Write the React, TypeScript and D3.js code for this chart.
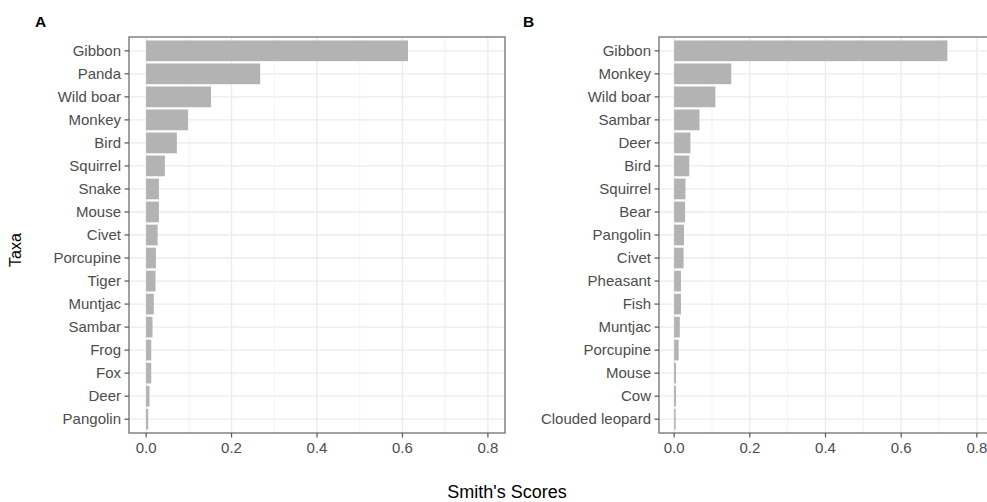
import React from "react";
import * as d3 from "d3";

const taxaA = ["Gibbon", "Panda", "Wild boar", "Monkey", "Bird", "Squirrel", "Snake", "Mouse", "Civet", "Porcupine", "Tiger", "Muntjac", "Sambar", "Frog", "Fox", "Deer", "Pangolin"];
const scoresA = [0.613, 0.267, 0.152, 0.098, 0.072, 0.044, 0.030, 0.030, 0.027, 0.023, 0.022, 0.018, 0.015, 0.012, 0.012, 0.008, 0.005];

const taxaB = ["Gibbon", "Monkey", "Wild boar", "Sambar", "Deer", "Bird", "Squirrel", "Bear", "Pangolin", "Civet", "Pheasant", "Fish", "Muntjac", "Porcupine", "Mouse", "Cow", "Clouded leopard"];
const scoresB = [0.722, 0.151, 0.109, 0.067, 0.043, 0.040, 0.030, 0.029, 0.026, 0.025, 0.018, 0.018, 0.015, 0.012, 0.005, 0.005, 0.004];

const xMajor = [0, 0.2, 0.4, 0.6, 0.8];
const xMinor = [0.1, 0.3, 0.5, 0.7];
const xDomain: [number, number] = [-0.04, 0.84];

const FONT = "'Liberation Sans', Arial, Helvetica, sans-serif";
const TOP = 37;
const BOTTOM = 433;

function Panel({ left, right, taxa, scores, label, labelX }: { left: number; right: number; taxa: string[]; scores: number[]; label: string; labelX: number }) {
  const x = d3.scaleLinear().domain(xDomain).range([left, right]);
  const y = d3.scalePoint<string>().domain(taxa).range([TOP, BOTTOM]).padding(0.6);
  const step = y.step();
  const barH = step * 0.9;
  const fmt = d3.format(".1f");
  return (
    <g>
      <text x={labelX} y={27} fontFamily={FONT} fontWeight="bold" fontSize={15.5} fill="#000">{label}</text>
      <rect x={left} y={TOP} width={right - left} height={BOTTOM - TOP} fill="#fff" />
      {xMinor.map((v) => (
        <line key={"mi" + v} x1={x(v)} x2={x(v)} y1={TOP} y2={BOTTOM} stroke="#EFEFEF" strokeWidth={0.7} />
      ))}
      {xMajor.map((v) => (
        <line key={"ma" + v} x1={x(v)} x2={x(v)} y1={TOP} y2={BOTTOM} stroke="#EBEBEB" strokeWidth={1.3} />
      ))}
      {taxa.map((t) => (
        <line key={"h" + t} x1={left} x2={right} y1={y(t)} y2={y(t)} stroke="#EBEBEB" strokeWidth={1.3} />
      ))}
      {taxa.map((t, i) => (
        <rect key={"b" + t} x={x(0)} y={(y(t) as number) - barH / 2} width={x(scores[i]) - x(0)} height={barH} fill="#B3B3B3" />
      ))}
      <rect x={left} y={TOP} width={right - left} height={BOTTOM - TOP} fill="none" stroke="#7a7a7a" strokeWidth={1.4} />
      {taxa.map((t) => (
        <g key={"t" + t}>
          <line x1={left - 4.5} x2={left} y1={y(t)} y2={y(t)} stroke="#555" strokeWidth={1.2} />
          <text x={left - 8} y={y(t)} dy="0.35em" textAnchor="end" fontFamily={FONT} fontSize={15} fill="#4D4D4D">{t}</text>
        </g>
      ))}
      {xMajor.map((v) => (
        <g key={"xt" + v}>
          <line x1={x(v)} x2={x(v)} y1={BOTTOM} y2={BOTTOM + 4.5} stroke="#555" strokeWidth={1.2} />
          <text x={x(v)} y={BOTTOM + 20} textAnchor="middle" fontFamily={FONT} fontSize={15} fill="#4D4D4D">{fmt(v)}</text>
        </g>
      ))}
    </g>
  );
}

export default function App() {
  return (
    <svg width={987} height={502} style={{ position: "absolute", left: 0, top: 0, background: "#fff" }}>
      <rect x={0} y={0} width={987} height={502} fill="#fff" />
      <Panel left={129} right={505} taxa={taxaA} scores={scoresA} label="A" labelX={35} />
      <Panel left={659} right={992} taxa={taxaB} scores={scoresB} label="B" labelX={523} />
      <text transform="translate(21,250) rotate(-90)" textAnchor="middle" fontFamily={FONT} fontSize={16} fill="#000">Taxa</text>
      <text x={507} y={498} textAnchor="middle" fontFamily={FONT} fontSize={18} fill="#000">Smith's Scores</text>
    </svg>
  );
}
